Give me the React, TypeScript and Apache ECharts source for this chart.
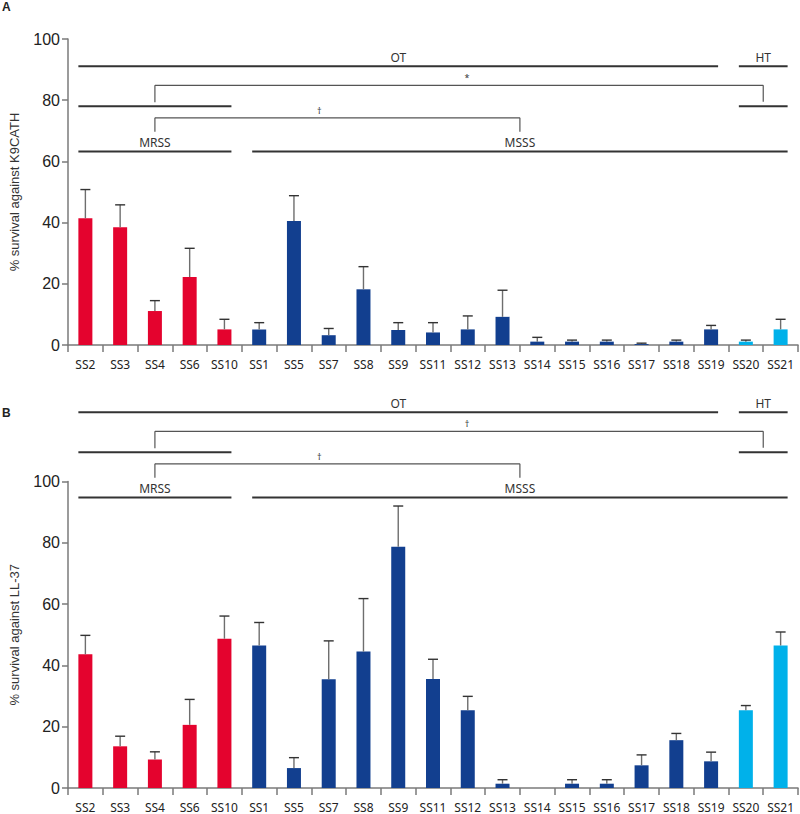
import React, { useEffect, useRef } from "react";
import * as echarts from "echarts";

const categories = ["SS2","SS3","SS4","SS6","SS10","SS1","SS5","SS7","SS8","SS9","SS11","SS12","SS13","SS14","SS15","SS16","SS17","SS18","SS19","SS20","SS21"];
const groups = ["MRSS","MRSS","MRSS","MRSS","MRSS","MSSS","MSSS","MSSS","MSSS","MSSS","MSSS","MSSS","MSSS","MSSS","MSSS","MSSS","MSSS","MSSS","MSSS","HT","HT"];

const k9Mean = [41.4, 38.5, 11.1, 22.2, 5.1, 5.1, 40.5, 3.2, 18.2, 4.9, 4.1, 5.1, 9.2, 1.1, 1.1, 1.1, 0.3, 1.1, 5.1, 1.1, 5.1];
const k9Upper = [50.8, 45.8, 14.5, 31.6, 8.4, 7.3, 48.8, 5.4, 25.6, 7.3, 7.3, 9.5, 17.9, 2.5, 1.6, 1.6, 0.6, 1.6, 6.4, 1.6, 8.4];

const llMean = [43.6, 13.6, 9.3, 20.6, 48.7, 46.5, 6.5, 35.5, 44.5, 78.7, 35.6, 25.4, 1.4, 0, 1.4, 1.4, 7.4, 15.6, 8.7, 25.4, 46.5];
const llUpper = [49.8, 16.9, 11.8, 28.9, 56.1, 54.0, 9.9, 48.0, 61.8, 92.0, 42.0, 29.9, 2.7, 0, 2.7, 2.7, 10.8, 17.8, 11.7, 26.9, 50.9];

const yTicks = [0, 20, 40, 60, 80, 100];
const panelNames = ["% survival against K9CATH", "% survival against LL-37"];
const panelLetters = ["A", "B"];
const sigMarks = [["*", "†"], ["†", "†"]];

const RED = "#e4032e";
const BLUE = "#123f8f";
const LIGHT = "#00b1ea";
const colorFor = (g: string) => (g === "MRSS" ? RED : g === "HT" ? LIGHT : BLUE);

export default function App() {
  const ref = useRef<HTMLDivElement>(null);
  useEffect(() => {
    document.body.style.margin = "0";
    const chart = echarts.init(ref.current!, null, { renderer: "svg" });
    const BAR_W = 14;
    const grids = [
      { left: 68, top: 39, width: 730, height: 306 },
      { left: 68, top: 481.5, width: 730, height: 306.5 },
    ];
    const means = [k9Mean, llMean];
    const uppers = [k9Upper, llUpper];

    const xAxes: any[] = [];
    const yAxes: any[] = [];
    const series: any[] = [];
    for (let p = 0; p < 2; p++) {
      xAxes.push({
        type: "category",
        gridIndex: p,
        data: categories,
        axisLine: { lineStyle: { color: "#7a7a7a", width: 1.5 } },
        axisTick: { show: true, length: 7, lineStyle: { color: "#7a7a7a", width: 1.5 } },
        axisLabel: { interval: 0, hideOverlap: false, margin: 13, fontFamily: "Noto Sans", fontSize: 12, color: "#222" },
      });
      yAxes.push({
        type: "value",
        gridIndex: p,
        min: yTicks[0],
        max: yTicks[yTicks.length - 1],
        interval: 20,
        name: panelNames[p],
        nameLocation: "middle",
        nameGap: 47,
        nameTextStyle: { fontFamily: "Liberation Sans", fontSize: 13, color: "#333" },
        axisLine: { show: true, lineStyle: { color: "#7a7a7a", width: 1.5 } },
        axisTick: { show: true, length: 6, lineStyle: { color: "#7a7a7a", width: 1.5 } },
        axisLabel: { margin: 8, fontFamily: "Liberation Sans", fontSize: 16, color: "#222" },
        splitLine: { show: false },
      });
      series.push({
        type: "bar",
        xAxisIndex: p,
        yAxisIndex: p,
        barWidth: BAR_W,
        data: means[p].map((v, i) => ({ value: v, itemStyle: { color: colorFor(groups[i]) } })),
        z: 2,
      });
      series.push({
        type: "custom",
        xAxisIndex: p,
        yAxisIndex: p,
        z: 3,
        data: means[p].map((v, i) => [i, v, uppers[p][i]]),
        renderItem: (params: any, api: any) => {
          const i = api.value(0);
          const m = api.value(1);
          const u = api.value(2);
          if (u <= 0) return null;
          const base = api.coord([i, m]);
          const top = api.coord([i, u]);
          const x = base[0];
          return {
            type: "group",
            children: [
              { type: "line", shape: { x1: x, y1: base[1], x2: x, y2: top[1] }, style: { stroke: "#6e6e6e", lineWidth: 1.4 } },
              { type: "line", shape: { x1: x - 5, y1: top[1], x2: x + 5, y2: top[1] }, style: { stroke: "#333", lineWidth: 1.4 } },
            ],
          };
        },
      });
    }

    chart.setOption({
      animation: false,
      grid: grids,
      xAxis: xAxes,
      yAxis: yAxes,
      series,
    });

    const anchorY = [66.3, 412.3];
    const graphics: any[] = [];
    const textStyle = { fontFamily: "Noto Sans", fontSize: 12, fill: "#333" };
    for (let p = 0; p < 2; p++) {
      const cx = (i: number) => chart.convertToPixel({ xAxisIndex: p }, i) as number;
      const left = (i: number) => cx(i) - BAR_W / 2;
      const right = (i: number) => cx(i) + BAR_W / 2;
      const idx = (g: string) => groups.map((x, k) => (x === g ? k : -1)).filter((k) => k >= 0);
      const mr = idx("MRSS");
      const ms = idx("MSSS");
      const ht = idx("HT");
      const otStart = left(0);
      const otEnd = right(ms[ms.length - 1]);
      const htStart = left(ht[0]);
      const htEnd = right(ht[ht.length - 1]);
      const mrStart = left(mr[0]);
      const mrEnd = right(mr[mr.length - 1]);
      const msStart = left(ms[0]);
      const msEnd = htEnd;
      const y0 = anchorY[p];
      const heavy = { stroke: "#333", lineWidth: 2 };
      const thin = { stroke: "#555", lineWidth: 1.2 };
      const hline = (x1: number, x2: number, y: number, st: any) => ({ type: "line", shape: { x1, y1: y, x2, y2: y }, style: st });
      const vline = (x: number, y1: number, y2: number, st: any) => ({ type: "line", shape: { x1: x, y1, x2: x, y2 }, style: st });
      graphics.push(hline(otStart, otEnd, y0, heavy));
      graphics.push(hline(htStart, htEnd, y0, heavy));
      graphics.push({ type: "text", x: (otStart + otEnd) / 2, y: y0 - 3, style: { ...textStyle, text: "OT", textAlign: "center", textVerticalAlign: "bottom" } });
      graphics.push({ type: "text", x: (htStart + htEnd) / 2, y: y0 - 3, style: { ...textStyle, text: "HT", textAlign: "center", textVerticalAlign: "bottom" } });
      const gY = y0 + 40;
      graphics.push(hline(mrStart, mrEnd, gY, heavy));
      graphics.push(hline(htStart, htEnd, gY, heavy));
      const mrC = (mrStart + mrEnd) / 2;
      const htC = (htStart + htEnd) / 2;
      const msC = (msStart + msEnd) / 2;
      const b1 = y0 + 19;
      graphics.push(hline(mrC, htC, b1, thin));
      graphics.push(vline(mrC, b1, y0 + 36, thin));
      graphics.push(vline(htC, b1, y0 + 35.5, thin));
      graphics.push({ type: "text", x: (mrC + htC) / 2 + 8, y: b1 - 3, style: { ...textStyle, fontSize: 9, text: sigMarks[p][0], textAlign: "center", textVerticalAlign: "bottom" } });
      const b2 = y0 + 51.5;
      graphics.push(hline(mrC, msC, b2, thin));
      graphics.push(vline(mrC, b2, y0 + 65.5, thin));
      graphics.push(vline(msC, b2, y0 + 65.5, thin));
      graphics.push({ type: "text", x: (mrC + msC) / 2 - 18, y: b2 - 3, style: { ...textStyle, fontSize: 9, text: sigMarks[p][1], textAlign: "center", textVerticalAlign: "bottom" } });
      const sY = y0 + 85.3;
      graphics.push(hline(mrStart, mrEnd, sY, heavy));
      graphics.push(hline(msStart, msEnd, sY, heavy));
      graphics.push({ type: "text", x: mrC, y: sY - 3, style: { ...textStyle, text: "MRSS", textAlign: "center", textVerticalAlign: "bottom" } });
      graphics.push({ type: "text", x: msC, y: sY - 3, style: { ...textStyle, text: "MSSS", textAlign: "center", textVerticalAlign: "bottom" } });
    }
    graphics.push({ type: "text", left: 2, top: 1, style: { text: panelLetters[0], fontFamily: "Liberation Sans", fontWeight: "bold", fontSize: 12, fill: "#222" } });
    graphics.push({ type: "text", left: 2, top: 407, style: { text: panelLetters[1], fontFamily: "Liberation Sans", fontWeight: "bold", fontSize: 12, fill: "#222" } });
    chart.setOption({ graphic: graphics });

    return () => chart.dispose();
  }, []);
  return <div ref={ref} style={{ width: 800, height: 814 }} />;
}
